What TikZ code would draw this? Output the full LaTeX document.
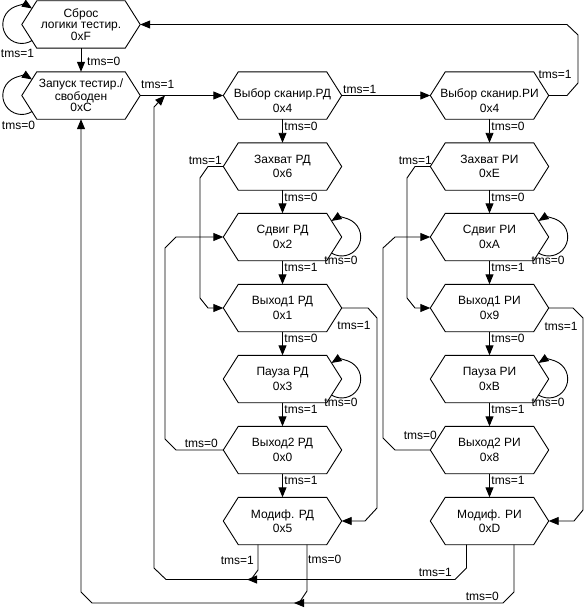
\documentclass[tikz,border=0pt]{standalone}
\usepackage{fontspec}
\setmainfont{Liberation Sans}
\usetikzlibrary{arrows.meta}

\tikzset{
  tapnode/.style={minimum width=118pt, minimum height=47pt, inner sep=0pt,
    align=center, font=\fontsize{12}{14.5}\selectfont},
  threeline/.style={font=\fontsize{12}{10.5}\selectfont},
  hexline/.style={line width=0.9pt},
  flow/.style={line width=0.9pt, -{Triangle[length=10pt, width=8pt]}},
  tmslabel/.style={font=\fontsize{12}{12}\selectfont, inner sep=0pt},
}

% hexagonal state: [options]{name}{position}{text}
\newcommand{\tapstate}[4][]{%
  \node[tapnode, #1] (#2) at (#3) {#4};
  \draw[hexline] (#2.west) -- ([xshift=15pt]#2.north west)
    -- ([xshift=-15pt]#2.north east) -- (#2.east)
    -- ([xshift=-15pt]#2.south east) -- ([xshift=15pt]#2.south west) -- cycle;
}

\begin{document}
\begin{tikzpicture}[x=1pt, y=-1pt]
  \useasboundingbox (0,0) rectangle (585,610);
  % --- Reset and idle ---
  \tapstate[threeline]{reset}{81,24.5}{Сброс\\логики тестир.\\0xF}
  \tapstate[threeline]{idle}{81,95.5}{Запуск тестир./\\свободен\\0xC}
  % --- Data register column ---
  \tapstate{seldr}{282.5,95.5}{\rule{0pt}{19pt}Выбор сканир.РД\\0x4}
  \tapstate{capdr}{282.5,166.5}{Захват РД\\0x6}
  \tapstate{shdr}{282.5,237}{Сдвиг РД\\0x2}
  \tapstate{ex1dr}{282.5,308}{Выход1 РД\\0x1}
  \tapstate{padr}{282.5,379}{Пауза РД\\0x3}
  \tapstate{ex2dr}{282.5,450}{Выход2 РД\\0x0}
  \tapstate{updr}{282.5,521}{Модиф. РД\\0x5}
  % --- Instruction register column ---
  \tapstate{selir}{489.5,95.5}{\rule{0pt}{19pt}Выбор сканир.РИ\\0x4}
  \tapstate{capir}{489.5,166.5}{Захват РИ\\0xE}
  \tapstate{shir}{489.5,237}{Сдвиг РИ\\0xA}
  \tapstate{ex1ir}{489.5,308}{Выход1 РИ\\0x9}
  \tapstate{pair}{489.5,379}{Пауза РИ\\0xB}
  \tapstate{ex2ir}{489.5,450}{Выход2 РИ\\0x8}
  \tapstate{upir}{489.5,521}{Модиф. РИ\\0xD}

  % --- Self loops ---
  \draw[flow] ([shift={(10.2,16)}]reset.west) arc[start angle=57.5, end angle=302.5, radius=19];
  \draw[flow] ([shift={(10.2,16)}]idle.west) arc[start angle=57.5, end angle=302.5, radius=19];
  \foreach \s in {shdr, padr, shir, pair}
    \draw[flow] ([shift={(-10.2,16)}]\s.east) arc[start angle=122.5, end angle=-122.5, radius=19];
  \node[tmslabel] (lreset) at (17.5,53) {tms=1};
  \node[tmslabel] (lidle) at (18.5,125) {tms=0};
  \node[tmslabel] (lshdr) at (341,260) {tms=0};
  \node[tmslabel] (lpadr) at (341,402) {tms=0};
  \node[tmslabel] (lshir) at (548,260) {tms=0};
  \node[tmslabel] (lpair) at (548,402) {tms=0};

  % --- Straight down the columns ---
  \foreach \a/\b/\t in {seldr/capdr/0, capdr/shdr/0, shdr/ex1dr/1, ex1dr/padr/0,
      padr/ex2dr/1, ex2dr/updr/1, selir/capir/0, capir/shir/0, shir/ex1ir/1,
      ex1ir/pair/0, pair/ex2ir/1, ex2ir/upir/1}
    \draw[flow] (\a.south) -- node[tmslabel, anchor=west, pos=0.3, xshift=1.5pt] (l\a) {tms=\t} (\b.north);

  % --- Top row ---
  \draw[flow] (reset.south) -- (idle.north);
  \node[tmslabel, anchor=west] (lresetidle) at (87,61) {tms=0};
  \draw[flow] (idle.east) -- (seldr.west);
  \node[tmslabel, anchor=west] (lidlesel) at (141,84.5) {tms=1};
  \draw[flow] (seldr.east) -- (selir.west);
  \node[tmslabel, anchor=west] (lseldrir) at (343,89.5) {tms=1};
  \draw[flow] (selir.east) -- (567,95.5) -- (578,83) -- (578,35) -- (567,24.5) -- (reset.east);
  \node[tmslabel] (lselreset) at (555,74) {tms=1};

  % --- Side branches, data register ---
  \draw[flow] (capdr.west) -- (208,166.5) -- (200,178) -- (200,298) -- (208,308) -- (ex1dr.west);
  \node[tmslabel, anchor=east] (lcapex1dr) at (222,160) {tms=1};
  \draw[flow] (ex2dr.west) -- (176,450) -- (165,439) -- (165,248) -- (176,237) -- (shdr.west);
  \node[tmslabel, anchor=east] (lex2shdr) at (218,443) {tms=0};
  \draw[flow] (ex1dr.east) -- (368,308) -- (377,318) -- (377,508) -- (365,521) -- (updr.east);
  \node[tmslabel] (lex1updr) at (354,325.5) {tms=1};

  % --- Side branches, instruction register ---
  \draw[flow] (capir.west) -- (415,166.5) -- (407,178) -- (407,298) -- (415,308) -- (ex1ir.west);
  \node[tmslabel, anchor=east] (lcapex1ir) at (432,160) {tms=1};
  \draw[flow] (ex2ir.west) -- (395,450) -- (383,438) -- (383,248) -- (395,237) -- (shir.west);
  \node[tmslabel, anchor=east] (lex2shir) at (437,435.5) {tms=0};
  \draw[flow] (ex1ir.east) -- (573,308) -- (583,318) -- (583,510) -- (574,521) -- (upir.east);
  \node[tmslabel] (lex1upir) at (561,326) {tms=1};

  % --- Returns from update states ---
  \coordinate (jsel) at (165,95.5);
  \coordinate (jone) at (247,579.5);
  \coordinate (jzero) at (294,603);
  \draw[flow] ([xshift=-23pt]upir.south) -- (466.5,568) -- (455,579.5) -- (166,579.5)
    -- (154,568) -- (154,107) -- (jsel);
  \node[tmslabel, anchor=east] (lupir1) at (452,572) {tms=1};
  \draw[flow] ([xshift=24.5pt]upir.south) -- (514,592) -- (503,603) -- (92,603)
    -- (81,592) -- (idle.south);
  \node[tmslabel, anchor=east] (lupir0) at (499,596) {tms=0};
  \draw[flow] ([xshift=-24.5pt]updr.south) -- (258,570) -- (251,579.5) -- (jone);
  \node[tmslabel, anchor=east] (lupdr1) at (254,560.5) {tms=1};
  \draw[flow] ([xshift=24.5pt]updr.south) -- (307,591) -- (299,603) -- (jzero);
  \node[tmslabel, anchor=west] (lupdr0) at (308,559) {tms=0};
\end{tikzpicture}
\end{document}
